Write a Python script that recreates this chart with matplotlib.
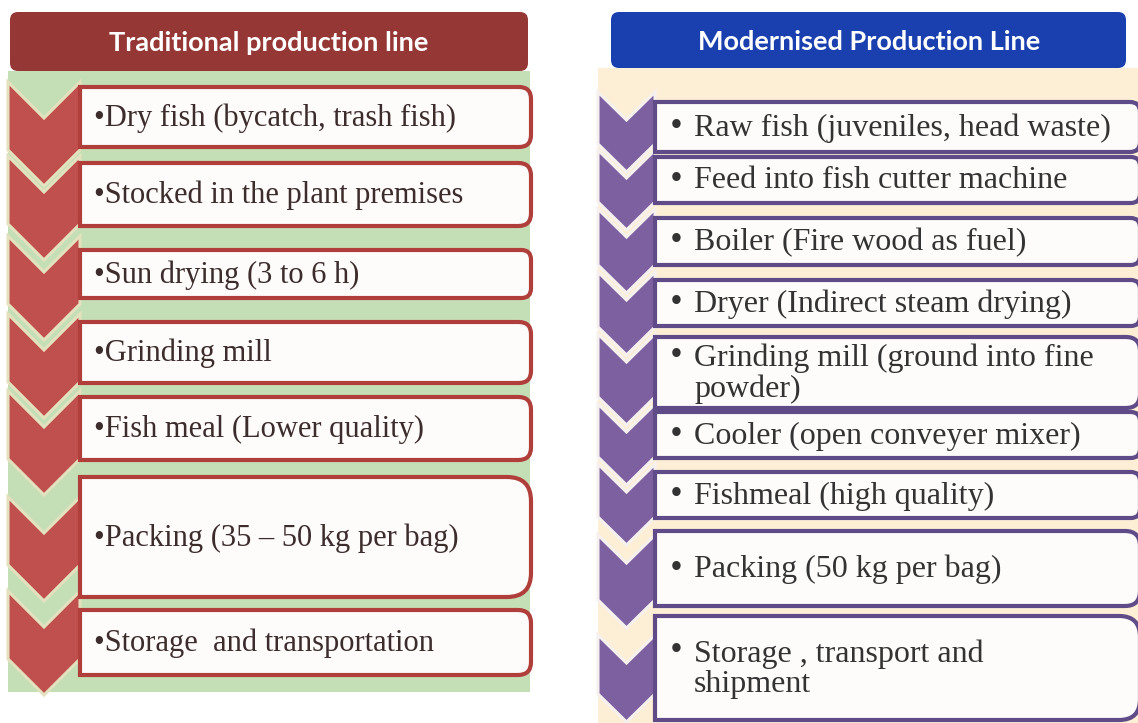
import numpy as np
import matplotlib.pyplot as plt
from matplotlib.path import Path
from matplotlib.patches import PathPatch, FancyBboxPatch, Rectangle

# step labels, top to bottom
trad_steps = ["Dry fish (bycatch, trash fish)",
              "Stocked in the plant premises",
              "Sun drying (3 to 6 h)",
              "Grinding mill",
              "Fish meal (Lower quality)",
              "Packing (35 \u2013 50 kg per bag)",
              "Storage  and transportation"]
modern_steps = ["Raw fish (juveniles, head waste)",
                "Feed into fish cutter machine",
                "Boiler (Fire wood as fuel)",
                "Dryer (Indirect steam drying)",
                "Grinding mill (ground into fine\npowder)",
                "Cooler (open conveyer mixer)",
                "Fishmeal (high quality)",
                "Packing (50 kg per bag)",
                "Storage , transport and\nshipment"]

# vertical extents (pixels from top) of the text boxes and chevrons
trad_box_top = [87, 163, 250, 322, 397, 477, 610]
trad_box_bot = [147, 226, 298, 383, 460, 597, 675]
trad_chev_top = [82, 156, 236, 314, 391, 497, 591]
trad_chev_bot = [186, 260, 340, 418, 495, 601, 695]

modern_box_top = [102, 157, 218, 280, 337, 412, 472, 531, 616]
modern_box_bot = [152, 203, 265, 326, 408, 458, 518, 606, 720]
modern_chev_top = [92, 150, 209, 272, 334, 404, 464, 535, 635]
modern_chev_bot = [172, 230, 293, 355, 425, 485, 545, 628, 722]

W, H = 1138, 723
fig = plt.figure(figsize=(W / 100, H / 100), dpi=100)
ax = fig.add_axes([0, 0, 1, 1])
ax.set_xlim(0, W)
ax.set_ylim(H, 0)
ax.axis('off')


def chevron(x0, x1, t, b, d):
    xm = (x0 + x1) / 2.0
    verts = [(x0, t), (xm, t + d), (x1, t), (x1, b - d), (xm, b), (x0, b - d), (x0, t)]
    codes = [Path.MOVETO] + [Path.LINETO] * 5 + [Path.CLOSEPOLY]
    return Path(verts, codes)


def right_round_box(x0, x1, t, b, r):
    verts = [(x0, t), (x1 - r, t), (x1, t), (x1, t + r), (x1, b - r), (x1, b), (x1 - r, b),
             (x0, b), (x0, t)]
    codes = [Path.MOVETO, Path.LINETO, Path.CURVE3, Path.CURVE3, Path.LINETO,
             Path.CURVE3, Path.CURVE3, Path.LINETO, Path.CLOSEPOLY]
    return Path(verts, codes)


def panel(x0, x1, bg_top, bg_bot, bg_col, chev_x1, chev_d, chev_col, chev_edge,
          box_x1, box_edge, tops, bots, ctops, cbots, steps, fs, txt_col, bullet_x, text_x, lsp):
    ax.add_patch(Rectangle((x0, bg_top), x1 - x0, bg_bot - bg_top, facecolor=bg_col,
                           edgecolor='none', zorder=1))
    for t, b in zip(ctops, cbots):
        ax.add_patch(PathPatch(chevron(x0, chev_x1, t, b, chev_d), facecolor=chev_col,
                               edgecolor=chev_edge, lw=2.2, zorder=2))
    for t, b, s in zip(tops, bots, steps):
        r = min(b - t, 120) * 0.2
        ax.add_patch(PathPatch(right_round_box(chev_x1, box_x1, t, b, r), facecolor='#fdfcfa',
                               edgecolor=box_edge, lw=3, zorder=3))
        yc = (t + b) / 2.0
        if bullet_x is None:
            # bullet glued to the text
            ax.text(text_x, yc + 1, '\u2022' + s, fontsize=fs, color=txt_col, va='center',
                    ha='left', family='Liberation Serif', linespacing=lsp, zorder=4)
        else:
            nlines = len(s.split('\n'))
            yb = yc - (nlines - 1) * fs * 1.39 * lsp / 2.0
            ax.text(bullet_x, yb, '\u2022', fontsize=fs * 0.9, color=txt_col, va='center',
                    ha='left', family='DejaVu Serif', zorder=4)
            ax.text(text_x, yc + 1, s, fontsize=fs, color=txt_col, va='center', ha='left',
                    family='Liberation Serif', linespacing=lsp, zorder=4)


# Traditional line (left)
ax.add_patch(FancyBboxPatch((14, 16), 510, 51, boxstyle='round,pad=4,rounding_size=8',
                            facecolor='#953735', edgecolor='none', zorder=2))
ax.text(269, 43, 'Traditional production line', color='white', fontsize=19.5, fontweight='bold',
        family='Lato', ha='center', va='center', zorder=3)
panel(8, 530, 71, 692, '#c4dfb6', 80, 36, '#c0504d', '#e4e1bf', 531, '#b03f3c',
      trad_box_top, trad_box_bot, trad_chev_top, trad_chev_bot, trad_steps,
      22, '#3d2c2c', None, 94, 1.2)

# Modernised line (right)
ax.add_patch(FancyBboxPatch((615, 16), 507, 48, boxstyle='round,pad=4,rounding_size=8',
                            facecolor='#1a3fae', edgecolor='none', zorder=2))
ax.text(869, 42, 'Modernised Production Line', color='white', fontsize=19.5, fontweight='bold',
        family='Lato', ha='center', va='center', zorder=3)
panel(598, 1138, 68, 723, '#fdefd6', 655, 28, '#7d60a0', '#f6f1ef', 1140, '#5e4b88',
      modern_box_top, modern_box_bot, modern_chev_top, modern_chev_bot, modern_steps,
      23, '#333333', 668, 694, 1.05)

fig.savefig('out.png', dpi=100, facecolor='white')
